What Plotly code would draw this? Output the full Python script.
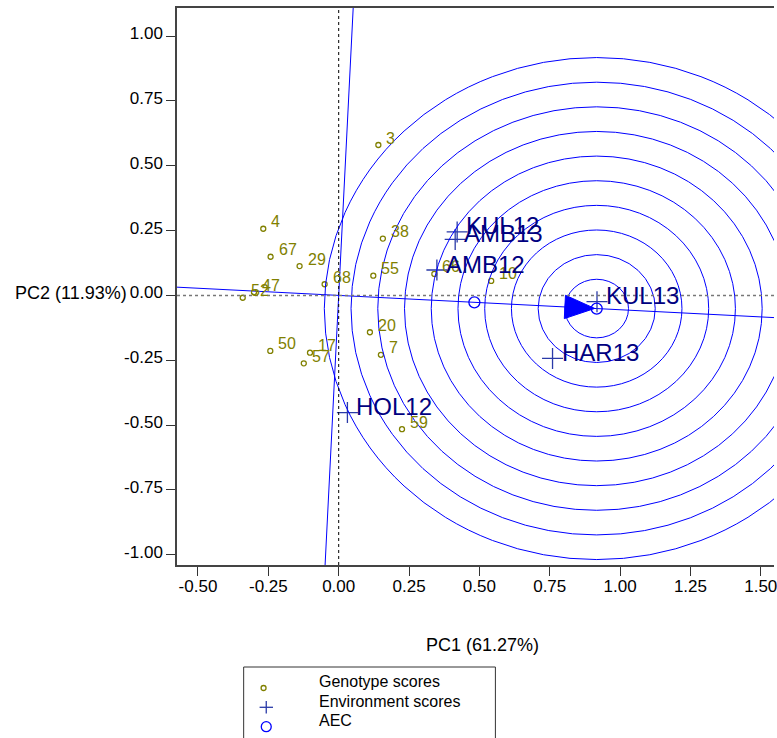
import numpy as np
import plotly.graph_objects as go

# ---------------- data ----------------
geno_names = ["3", "4", "67", "29", "68", "38", "55", "47", "52", "66", "10",
              "20", "7", "50", "17", "57", "59"]
geno_pc1 = [0.141, -0.268, -0.242, -0.139, -0.050, 0.157, 0.123, -0.301, -0.341,
            0.340, 0.542, 0.111, 0.150, -0.243, -0.102, -0.124, 0.225]
geno_pc2 = [0.580, 0.257, 0.149, 0.113, 0.043, 0.219, 0.076, 0.012, -0.009,
            0.083, 0.056, -0.142, -0.229, -0.214, -0.221, -0.262, -0.516]

env_names = ["KUL12", "AMB13", "AMB12", "KUL13", "HAR13", "HOL12"]
env_pc1 = [0.421, 0.414, 0.349, 0.918, 0.760, 0.031]
env_pc2 = [0.245, 0.216, 0.098, -0.024, -0.243, -0.452]

circle_radii = [0.113, 0.208, 0.303, 0.398, 0.493, 0.588, 0.683, 0.778, 0.873, 0.968]

x_tick_vals = [-0.50, -0.25, 0.00, 0.25, 0.50, 0.75, 1.00, 1.25, 1.50]
y_tick_vals = [-1.00, -0.75, -0.50, -0.25, 0.00, 0.25, 0.50, 0.75, 1.00]

x_title = "PC1 (61.27%)"
y_title = "PC2 (11.93%)"
legend_labels = ["Genotype scores", "Environment scores", "AEC"]

# ---------------- layout constants ----------------
W, H = 777, 738
ML, MR, MT, MB = 177, 0, 8, 173
PW, PH = W - ML - MR, H - MT - MB
X_RANGE = [-0.5746, 1.547]
Y_RANGE = [-1.0397, 1.1084]
SX = PW / (X_RANGE[1] - X_RANGE[0])
SY = PH / (Y_RANGE[1] - Y_RANGE[0])

FONT = "Liberation Sans, Arial, sans-serif"
OLIVE = "#808000"
NAVY = "#000080"
PLUS = "#2a3aa8"
BLUE = "#0000ff"

# ---------------- derived AEC geometry ----------------
ex = np.array(env_pc1)
ey = np.array(env_pc2)
aec = np.array([ex.mean(), ey.mean()])
max_len = np.max(np.hypot(ex, ey))
pdir = np.array([aec[0] * SX, aec[1] * SY])
pdir = pdir / np.linalg.norm(pdir)
ideal = aec / np.linalg.norm(aec) * max_len

fig = go.Figure()

# AEC abscissa (through origin and mean environment)
m = aec[1] / aec[0]
xs = np.array([X_RANGE[0] - 0.2, X_RANGE[1] + 0.2])
fig.add_trace(go.Scatter(x=xs, y=m * xs, mode="lines",
                         line=dict(color=BLUE, width=1), hoverinfo="skip"))
# AEC ordinate (perpendicular in screen space)
perp = np.array([-pdir[1] / SX, pdir[0] / SY])
ts = np.array([-3.0, 3.0])
fig.add_trace(go.Scatter(x=perp[0] * ts / abs(perp[1]), y=perp[1] * ts / abs(perp[1]),
                         mode="lines", line=dict(color=BLUE, width=1), hoverinfo="skip"))

# concentric circles around the ideal environment
shapes = []
for r in circle_radii:
    shapes.append(dict(type="circle", xref="x", yref="y",
                       x0=ideal[0] - r, x1=ideal[0] + r,
                       y0=ideal[1] - r, y1=ideal[1] + r,
                       line=dict(color=BLUE, width=1), layer="above"))

# dotted zero lines
shapes.append(dict(type="line", xref="x", yref="paper", x0=0, x1=0, y0=0, y1=1,
                   line=dict(color="black", width=1, dash="dot")))
shapes.append(dict(type="line", xref="paper", yref="y", x0=0, x1=1, y0=0, y1=0,
                   line=dict(color="#777777", width=1.5, dash="dot")))

# arrow head pointing to ideal environment
tip_px = -2.0
L_px, HW_px = 30.0, 11.7
perp_px = np.array([-pdir[1], pdir[0]])
def px2d(v):
    return np.array([v[0] / SX, v[1] / SY])
tip = ideal + px2d(pdir * tip_px)
base = tip - px2d(pdir * L_px)
c1 = base + px2d(perp_px * HW_px)
c2 = base - px2d(perp_px * HW_px)
tri = np.array([tip, c1, c2, tip])
fig.add_trace(go.Scatter(x=tri[:, 0], y=tri[:, 1], mode="lines", fill="toself",
                         fillcolor=BLUE, line=dict(color=BLUE, width=1),
                         hoverinfo="skip"))

# genotype points
fig.add_trace(go.Scatter(x=geno_pc1, y=geno_pc2, mode="markers",
                         marker=dict(symbol="circle-open", size=5,
                                     line=dict(color=OLIVE, width=1.3), color=OLIVE),
                         name=legend_labels[0]))
# environment points
fig.add_trace(go.Scatter(x=env_pc1, y=env_pc2, mode="markers",
                         marker=dict(symbol="cross-thin", size=15,
                                     line=dict(color=PLUS, width=1.3), color=PLUS),
                         name=legend_labels[1]))
# AEC markers (mean environment and ideal environment)
fig.add_trace(go.Scatter(x=[aec[0], ideal[0]], y=[aec[1], ideal[1]], mode="markers",
                         marker=dict(symbol="circle-open", size=11,
                                     line=dict(color=BLUE, width=1.3), color=BLUE),
                         name=legend_labels[2]))

annotations = []
for n, x, y in zip(geno_names, geno_pc1, geno_pc2):
    annotations.append(dict(x=x, y=y, xref="x", yref="y", text=n, showarrow=False,
                            xanchor="left", yanchor="middle", xshift=6, yshift=7,
                            font=dict(family=FONT, size=16, color=OLIVE)))
for n, x, y in zip(env_names, env_pc1, env_pc2):
    annotations.append(dict(x=x, y=y, xref="x", yref="y", text=n, showarrow=False,
                            xanchor="left", yanchor="middle", xshift=7, yshift=6,
                            font=dict(family=FONT, size=24, color=NAVY)))

# axis titles
annotations.append(dict(x=(484 - ML) / PW, y=(H - MB - 645) / PH, xref="paper", yref="paper",
                        text=x_title, showarrow=False, xanchor="center", yanchor="middle",
                        font=dict(family=FONT, size=18, color="black")))
annotations.append(dict(x=(129 - ML) / PW, y=0, xref="paper", yref="y", yshift=2,
                        text=y_title, showarrow=False, xanchor="right", yanchor="middle",
                        font=dict(family=FONT, size=18, color="black")))

# manual legend box
def PX(px):
    return (px - ML) / PW
def PY(py):
    return (H - MB - py) / PH
shapes.append(dict(type="rect", xref="paper", yref="paper",
                   x0=PX(244), x1=PX(497), y0=PY(760), y1=PY(667),
                   line=dict(color="#333333", width=1), fillcolor="white", layer="above"))
shapes.append(dict(type="circle", xref="paper", yref="paper",
                   x0=PX(264 - 2.5), x1=PX(264 + 2.5), y0=PY(688 + 2.5), y1=PY(688 - 2.5),
                   line=dict(color=OLIVE, width=1.3), layer="above"))
shapes.append(dict(type="line", xref="paper", yref="paper",
                   x0=PX(260), x1=PX(273.5), y0=PY(707.3), y1=PY(707.3),
                   line=dict(color=PLUS, width=1.3), layer="above"))
shapes.append(dict(type="line", xref="paper", yref="paper",
                   x0=PX(266.7), x1=PX(266.7), y0=PY(701), y1=PY(713.5),
                   line=dict(color=PLUS, width=1.3), layer="above"))
shapes.append(dict(type="circle", xref="paper", yref="paper",
                   x0=PX(266.7 - 5), x1=PX(266.7 + 5), y0=PY(726.7 + 5), y1=PY(726.7 - 5),
                   line=dict(color=BLUE, width=1.3), layer="above"))
for lab, yc in zip(legend_labels, [681.7, 701, 720]):
    annotations.append(dict(x=PX(318), y=PY(yc), xref="paper", yref="paper", text=lab,
                            showarrow=False, xanchor="left", yanchor="middle",
                            font=dict(family=FONT, size=16, color="black")))

fig.update_layout(
    width=W, height=H,
    margin=dict(l=ML, r=MR, t=MT, b=MB, pad=0),
    paper_bgcolor="white", plot_bgcolor="white",
    showlegend=False,
    shapes=shapes, annotations=annotations,
    font=dict(family=FONT, size=16, color="black"),
)
fig.update_xaxes(range=X_RANGE, tickmode="array", tickvals=x_tick_vals,
                 ticktext=[f"{v:.2f}" for v in x_tick_vals],
                 showgrid=False, zeroline=False, ticklabeloverflow="allow",
                 showline=True, linecolor="#444444", linewidth=1.5, mirror=True,
                 ticks="outside", ticklen=9, tickcolor="#333333", tickwidth=1.2,
                 ticklabelstandoff=-4,
                 tickfont=dict(family=FONT, size=17, color="black"))
fig.update_yaxes(range=Y_RANGE, tickmode="array", tickvals=y_tick_vals,
                 ticktext=[f"{v:.2f}" for v in y_tick_vals],
                 showgrid=False, zeroline=False,
                 showline=True, linecolor="#444444", linewidth=1.5, mirror=False,
                 ticks="outside", ticklen=9, tickcolor="#333333", tickwidth=1.2,
                 ticklabelshift=-3,
                 tickfont=dict(family=FONT, size=17, color="black"))

fig.write_html("out.html")
